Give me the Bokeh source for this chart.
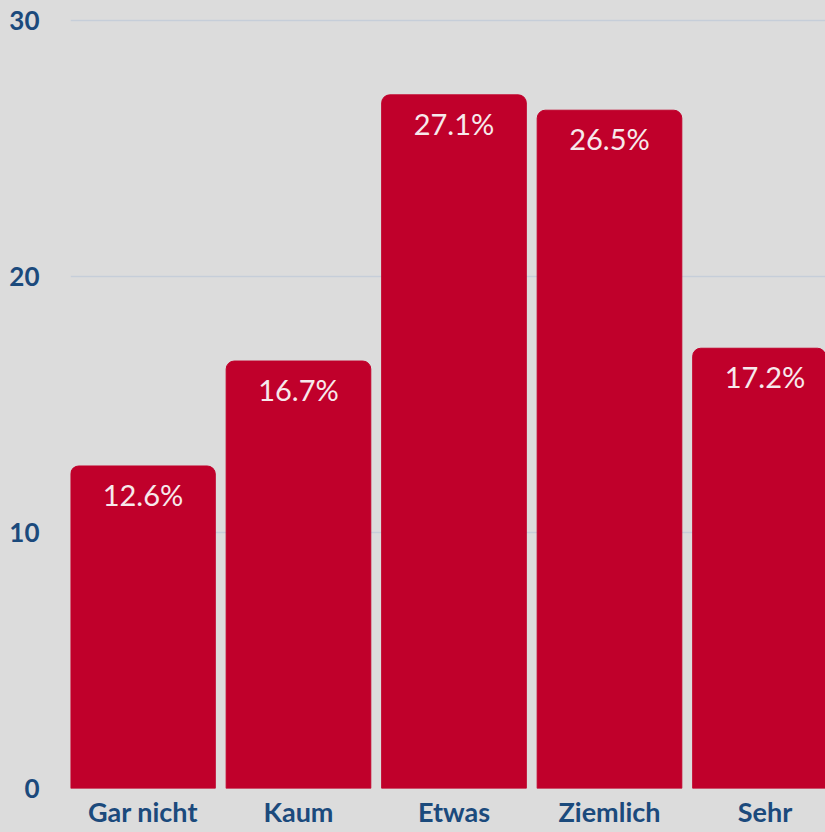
from bokeh.plotting import figure
from bokeh.models import ColumnDataSource, Range1d, FixedTicker
from bokeh.core.properties import value
from bokeh.embed import file_html
from bokeh.resources import INLINE

categories = ["Gar nicht", "Kaum", "Etwas", "Ziemlich", "Sehr"]
values = [12.6, 16.7, 27.1, 26.5, 17.2]
labels = ["12.6%", "16.7%", "27.1%", "26.5%", "17.2%"]
y_ticks = [0, 10, 20, 30]

BG = "#dcdcdc"
BAR = "#c0002b"
TXT = "#1b4a7c"
FONT = "Lato"

xs = list(range(len(categories)))
src = ColumnDataSource(dict(x=xs, top=values, label=labels))

p = figure(width=825, height=832, output_backend="svg", toolbar_location=None,
           x_range=Range1d(-0.466, 4.389), y_range=Range1d(0, 30.2),
           min_border_left=70, min_border_right=0, min_border_top=15, min_border_bottom=44)
p.background_fill_color = BG
p.border_fill_color = BG
p.outline_line_color = None

p.vbar(x="x", top="top", bottom=0, width=0.93, source=src,
       fill_color=BAR, line_color=BAR, border_radius=(8, 8, 0, 0))

p.text(x="x", y="top", text="label", source=src, text_align="center",
       text_baseline="top", y_offset=11, text_color="#f7e9ec",
       text_font=value(FONT), text_font_size="29px")

p.xaxis.ticker = FixedTicker(ticks=xs)
p.xaxis.major_label_overrides = {i: c for i, c in enumerate(categories)}
p.yaxis.ticker = FixedTicker(ticks=y_ticks)

for ax in (p.xaxis[0], p.yaxis[0]):
    ax.axis_line_color = None
    ax.major_tick_line_color = None
    ax.minor_tick_line_color = None
    ax.major_label_text_color = TXT
    ax.major_label_text_font = FONT
    ax.major_label_text_font_style = "bold"
p.xaxis.major_label_text_font_size = "27px"
p.xaxis.major_label_standoff = 0
p.yaxis.major_label_text_font_size = "26px"
p.yaxis.major_label_standoff = 25

p.xgrid.grid_line_color = None
p.ygrid.grid_line_color = "#c6ced9"
p.ygrid.grid_line_width = 1.5
p.ygrid.level = "underlay"

html = file_html(p, INLINE)
html = html.replace("<head>", "<head><style>html,body{background:%s;}</style>" % BG, 1)
open("out.html", "w").write(html)
